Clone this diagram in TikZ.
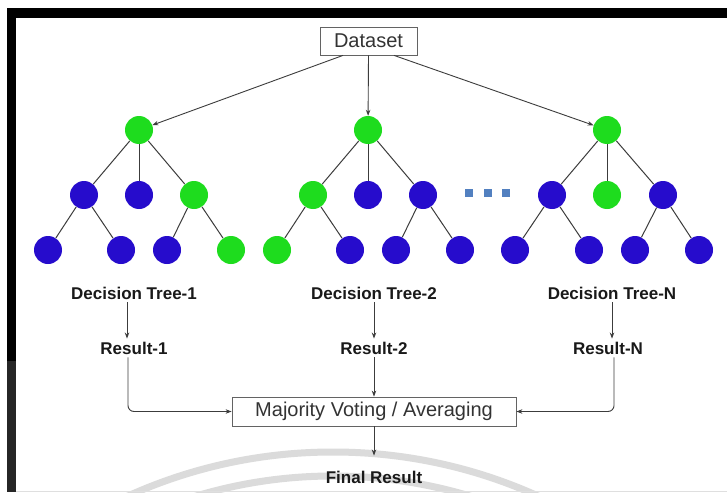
\documentclass[tikz,border=0pt]{standalone}
\usepackage{fontspec}
\setmainfont{Liberation Sans}
\usetikzlibrary{arrows.meta,calc}
\definecolor{ngreen}{RGB}{30,220,30}
\definecolor{nblue}{RGB}{38,12,204}
\definecolor{dotblue}{RGB}{82,128,192}
\definecolor{linegray}{RGB}{60,60,60}
\begin{document}
\begin{tikzpicture}[x=1pt,y=-1pt,
  leaf/.style={circle,minimum size=28pt,inner sep=0pt},
  gnode/.style={leaf,fill=ngreen},
  bnode/.style={leaf,fill=nblue},
  edge/.style={draw=linegray,line width=1pt},
  arr/.style={draw=linegray,line width=0.9pt,-{Stealth[length=6pt,width=4.5pt]}},
  box/.style={draw=linegray!80,line width=0.8pt,inner sep=0pt,font=\fontsize{20}{24}\selectfont,text=black!80},
  lbl/.style={font=\bfseries\fontsize{17}{20}\selectfont,text=black!90,inner sep=3pt},
  dotsq/.style={fill=dotblue,minimum size=8pt,inner sep=0pt}
]
\useasboundingbox (0,0) rectangle (727,492);
\fill[white] (0,0) rectangle (727,492);
% watermark arcs
\begin{scope}
\clip (16,18) rectangle (727,492);
\draw[gray!28,line width=7pt] (333,950) circle[radius=498pt];
\draw[gray!28,line width=7pt] (333,950) circle[radius=474pt];
\end{scope}
% frame
\fill[black] (7,8) rectangle (727,18);
\fill[black] (7,8) rectangle (16,361);
\fill[black!85] (7,361) rectangle (16,492);
\draw[gray!25,line width=1pt] (16,491) -- (727,491);

% dataset
\node[box,minimum width=97pt,minimum height=28pt] (ds) at (368.5,41) {Dataset};

% tree 1
\node[gnode] (r1) at (139,130) {};
\node[bnode] (a1) at (84,195) {};
\node[bnode] (a2) at (139,195) {};
\node[gnode] (a3) at (194,195) {};
\node[bnode] (a11) at (48,250) {};
\node[bnode] (a12) at (121,250) {};
\node[bnode] (a31) at (167,250) {};
\node[gnode] (a32) at (231,250) {};
% tree 2
\node[gnode] (r2) at (368,130) {};
\node[gnode] (b1) at (313,195) {};
\node[bnode] (b2) at (368,195) {};
\node[bnode] (b3) at (423,195) {};
\node[gnode] (b11) at (277,250) {};
\node[bnode] (b12) at (350,250) {};
\node[bnode] (b31) at (396,250) {};
\node[bnode] (b32) at (460,250) {};
% tree N
\node[gnode] (r3) at (607,130) {};
\node[bnode] (c1) at (552,195) {};
\node[gnode] (c2) at (607,195) {};
\node[bnode] (c3) at (663,195) {};
\node[bnode] (c11) at (515,250) {};
\node[bnode] (c12) at (589,250) {};
\node[bnode] (c31) at (635,250) {};
\node[bnode] (c32) at (699,250) {};
% dots
\node[dotsq] (d1) at (469,193) {};
\node[dotsq] (d2) at (488,193) {};
\node[dotsq] (d3) at (506,193) {};

% tree edges
\foreach \p/\c in {r1/a1,r1/a2,r1/a3,a1/a11,a1/a12,a3/a31,a3/a32,
                   r2/b1,r2/b2,r2/b3,b1/b11,b1/b12,b3/b31,b3/b32,
                   r3/c1,r3/c2,r3/c3,c1/c11,c1/c12,c3/c31,c3/c32}
  \draw[edge] (\p) -- (\c);

% dataset arrows
\draw[arr] ([xshift=-25.5pt]ds.south) -- (r1);
\draw[arr] (ds.south) -- (r2);
\draw[arr] ([xshift=25.5pt]ds.south) -- (r3);

% labels
\node[lbl] (dt1) at (134,293) {Decision Tree-1};
\node[lbl] (dt2) at (374,293) {Decision Tree-2};
\node[lbl] (dtN) at (612,293) {Decision Tree-N};
\node[lbl] (res1) at (134,348) {Result-1};
\node[lbl] (res2) at (374,348) {Result-2};
\node[lbl] (resN) at (608,348) {Result-N};

\draw[arr] ([xshift=-7pt]dt1.south) -- ([xshift=-7pt]dt1.south |- res1.north);
\draw[arr] (dt2.south) -- (res2.north);
\draw[arr] (dtN.south) -- (dtN.south |- resN.north);

% majority
\node[box,minimum width=284pt,minimum height=29pt] (maj) at (374,411.5) {Majority Voting / Averaging};
\node[lbl] (fin) at (374,477) {Final Result};

\draw[arr,rounded corners=6pt] ([xshift=-6pt]res1.south) |- (maj.west);
\draw[arr] (res2.south) -- (maj.north);
\draw[arr,rounded corners=6pt] ([xshift=6pt]resN.south) |- (maj.east);
\draw[arr,shorten >=12pt] (maj.south) -- (fin.north);
\end{tikzpicture}
\end{document}
